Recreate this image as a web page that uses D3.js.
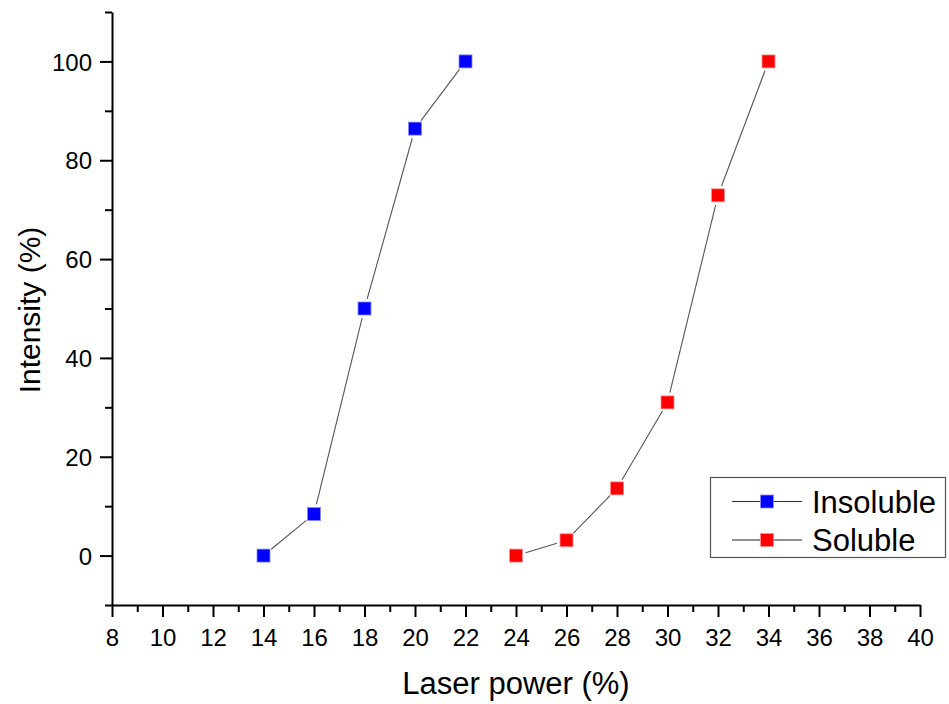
<!DOCTYPE html>
<html><head><meta charset="utf-8">
<script src="https://cdn.jsdelivr.net/npm/d3@7"></script>
<style>body{margin:0;background:#fff}svg{display:block}text{font-family:"Liberation Sans",Arial,sans-serif}</style>
</head><body>
<svg id="c" width="949" height="704"></svg>
<script>
const seriesNames = ["Insoluble", "Soluble"];
const seriesColors = ["#0000ff", "#ff0000"];
const insolubleX = [14, 16, 18, 20, 22];
const insolubleY = [0, 8.4, 50, 86.4, 100];
const solubleX = [24, 26, 28, 30, 32, 34];
const solubleY = [0, 3.1, 13.6, 31, 72.9, 100];
const xMajorTicks = [8,10,12,14,16,18,20,22,24,26,28,30,32,34,36,38,40];
const yMajorTicks = [0,20,40,60,80,100];
const xLabel = "Laser power (%)";
const yLabel = "Intensity (%)";

const svg = d3.select("#c");
const x = d3.scaleLinear().domain([8, 40]).range([112, 920]);
const y = d3.scaleLinear().domain([-10, 110]).range([605, 12]);

const xMinor = d3.range(9, 40, 2);
const yMinor = d3.range(-10, 111, 20);

// axes
const gx = svg.append("g").attr("transform", "translate(0,605)");
gx.call(d3.axisBottom(x).tickValues(xMajorTicks).tickSize(12).tickSizeOuter(0).tickPadding(6).tickFormat(d3.format("d")));
const gxm = svg.append("g").attr("transform", "translate(0,605)");
gxm.call(d3.axisBottom(x).tickValues(xMinor).tickSize(7).tickSizeOuter(0).tickFormat(""));
gxm.select(".domain").remove();

const gy = svg.append("g").attr("transform", "translate(112,0)");
gy.call(d3.axisLeft(y).tickValues(yMajorTicks).tickSize(12).tickSizeOuter(0).tickPadding(8).tickFormat(d3.format("d")));
const gym = svg.append("g").attr("transform", "translate(112,0)");
gym.call(d3.axisLeft(y).tickValues(yMinor).tickSize(7).tickSizeOuter(0).tickFormat(""));
gym.select(".domain").remove();

svg.selectAll(".domain, .tick line").attr("stroke", "#000").attr("stroke-width", 2);
gx.selectAll("text").attr("font-size", 24).attr("fill", "#000").attr("font-family", "Liberation Sans, Arial, sans-serif");
gy.selectAll("text").attr("font-size", 24).attr("fill", "#000").attr("font-family", "Liberation Sans, Arial, sans-serif");
gy.selectAll("text").attr("dy", "0.36em");
gx.selectAll("text").attr("dy", "0.95em");

// axis titles
svg.append("text").attr("x", 516).attr("y", 694).attr("text-anchor", "middle")
  .attr("font-size", 31).text(xLabel);
svg.append("text").attr("transform", "translate(40,310) rotate(-90)").attr("text-anchor", "middle")
  .attr("font-size", 30).text(yLabel);

// series
const series = [
  {xs: insolubleX, ys: insolubleY},
  {xs: solubleX, ys: solubleY}
];
const gap = 10;
const ms = 13;
series.forEach((s, si) => {
  const pts = s.xs.map((v, i) => [x(v), y(s.ys[i])]);
  const g = svg.append("g");
  for (let i = 0; i < pts.length - 1; i++) {
    const [x1, y1] = pts[i], [x2, y2] = pts[i + 1];
    const dx = x2 - x1, dy = y2 - y1, L = Math.hypot(dx, dy);
    if (L <= 2 * gap) continue;
    const ux = dx / L, uy = dy / L;
    g.append("line")
      .attr("x1", x1 + ux * gap).attr("y1", y1 + uy * gap)
      .attr("x2", x2 - ux * gap).attr("y2", y2 - uy * gap)
      .attr("stroke", "#555").attr("stroke-width", 1.1);
  }
  g.selectAll("rect").data(pts).join("rect")
    .attr("x", d => d[0] - ms / 2).attr("y", d => d[1] - ms / 2)
    .attr("width", ms).attr("height", ms)
    .attr("fill", seriesColors[si])
    .attr("stroke", si === 0 ? "#8888ff" : "#ff9090").attr("stroke-width", 0.8);
});

// legend
const lg = svg.append("g");
lg.append("rect").attr("x", 710.5).attr("y", 477.5).attr("width", 235).attr("height", 80)
  .attr("fill", "#fff").attr("stroke", "#555").attr("stroke-width", 1.2);
seriesNames.forEach((name, i) => {
  const cy = 501.5 + i * 38.5;
  lg.append("line").attr("x1", 732).attr("x2", 760).attr("y1", cy).attr("y2", cy).attr("stroke", "#333").attr("stroke-width", 1.1);
  lg.append("line").attr("x1", 773).attr("x2", 802).attr("y1", cy).attr("y2", cy).attr("stroke", "#333").attr("stroke-width", 1.1);
  lg.append("rect").attr("x", 767 - 6.5).attr("y", cy - 6.5).attr("width", ms).attr("height", ms)
    .attr("fill", seriesColors[i]).attr("stroke", i === 0 ? "#8888ff" : "#ff9090").attr("stroke-width", 0.8);
  lg.append("text").attr("x", 812).attr("y", cy + 11).attr("font-size", 31).attr("fill", "#000").text(name);
});
</script>
</body></html>
